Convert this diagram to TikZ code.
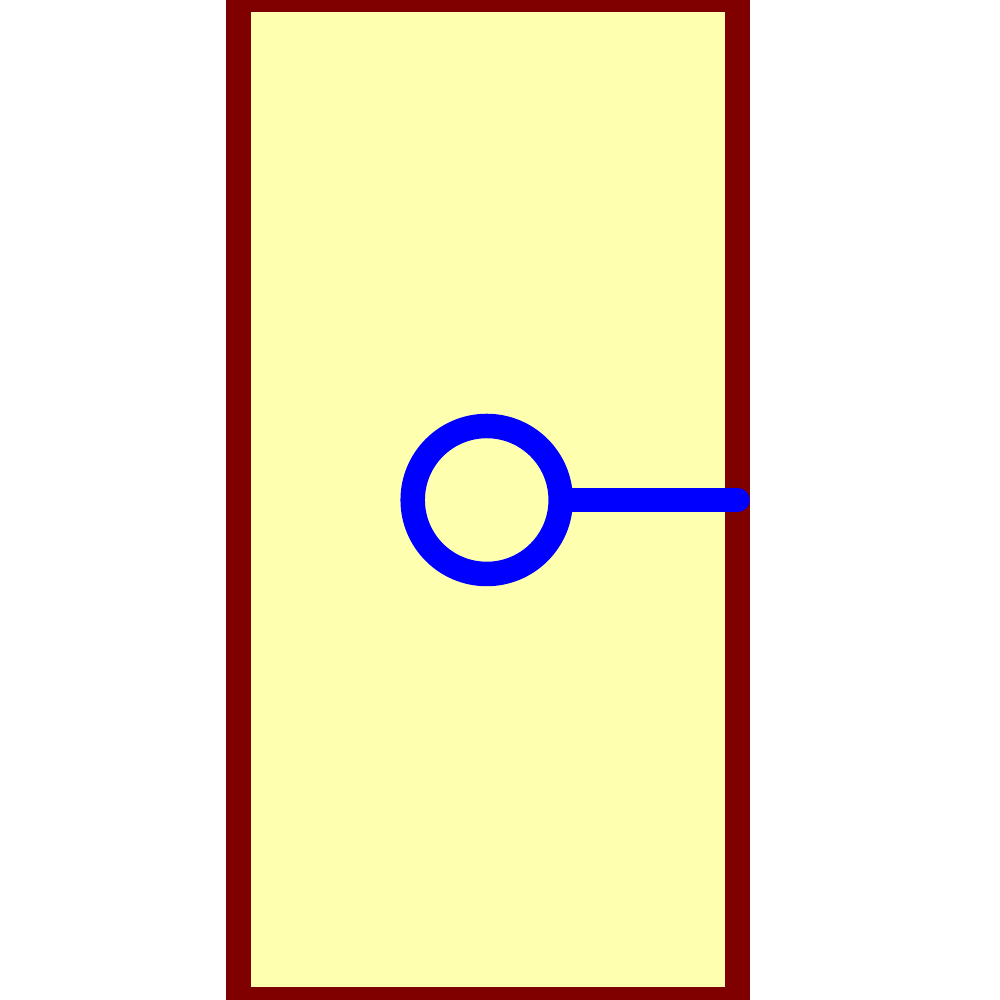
\documentclass[tikz,border=0pt]{standalone}
\usepackage{amsmath, amssymb, tikz}

\definecolor{wallred}{HTML}{800000}
\definecolor{paleyellow}{HTML}{FFFFB0}
\tikzset{
    wall/.style={draw=wallred, fill=paleyellow, line width=0.25cm},
    ring/.style={circle, draw=blue, line width=0.245cm, minimum size=1.48cm, inner sep=0pt},
    stem/.style={draw=blue, line width=0.245cm, line cap=round}
}

\begin{document}
\begin{tikzpicture}
                \useasboundingbox (0,0) rectangle (10,10);
                \filldraw[wall] (2.385,0) rectangle (7.375,10);
                \node[ring] (hole) at (4.867,5) {};
                \coordinate (edge) at (7.375,5);
                \draw[stem] (hole.east) -- (edge);
            \end{tikzpicture}
\end{document}
